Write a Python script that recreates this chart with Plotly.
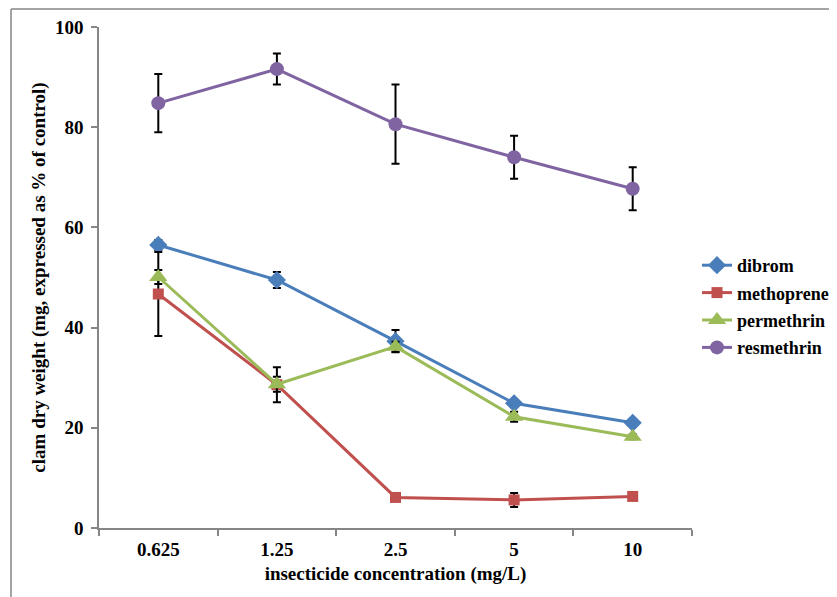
import plotly.graph_objects as go

categories = ["0.625", "1.25", "2.5", "5", "10"]
series_names = ["dibrom", "methoprene", "permethrin", "resmethrin"]
dibrom = [56.5, 49.5, 37.3, 24.9, 21.0]
dibrom_err = [1.0, 1.6, 2.2, 0.8, 0.5]
methoprene = [46.7, 28.6, 6.1, 5.6, 6.3]
methoprene_err = [8.4, 3.5, 0.5, 1.4, 0.5]
permethrin = [50.1, 28.7, 36.2, 22.2, 18.2]
permethrin_err = [1.4, 1.5, 1.0, 1.0, 0.5]
resmethrin = [84.8, 91.6, 80.6, 74.0, 67.7]
resmethrin_err = [5.8, 3.1, 7.9, 4.3, 4.3]

colors = ["#4A7EBB", "#C0504D", "#9BBB59", "#8064A2"]
symbols = ["diamond", "square", "triangle-up", "circle"]
sizes = [14, 11, 16, 14]
values = [dibrom, methoprene, permethrin, resmethrin]
errors = [dibrom_err, methoprene_err, permethrin_err, resmethrin_err]

font_family = "Liberation Serif"
FS = 19
bold = dict(family=font_family, size=FS, color="black", weight="bold")

fig = go.Figure()
for name, vals, errs, c, s, sz in zip(series_names, values, errors, colors, symbols, sizes):
    fig.add_trace(go.Scatter(
        x=categories, y=vals, name=name, legendgroup=name,
        mode="lines+markers",
        line=dict(color=c, width=3),
        marker=dict(color=c, symbol=s, size=sz),
        error_y=dict(type="data", array=errs, visible=True, color="black",
                     thickness=2, width=4),
    ))

# page has an 8px body margin: figure drawn at (8, 8)
OFF = 8
W, H = 837 - OFF, 597 - OFF
L, T = 99 - OFF, 27 - OFF
pw, ph = 593, 501
R, B = W - L - pw, H - T - ph
fx = (11 - OFF - L) / pw
fy = 1 + (27 - 9) / ph

leg_left = 697 - OFF
leg_top = 247 - OFF

fig.update_layout(
    width=W, height=H,
    margin=dict(l=L, r=R, t=T, b=B, autoexpand=False),
    paper_bgcolor="white", plot_bgcolor="white",
    font=dict(family=font_family, size=FS, color="black"),
    showlegend=True,
    legend=dict(x=(leg_left - L) / pw, y=(T + ph - leg_top) / ph,
                xanchor="left", yanchor="top",
                font=dict(family=font_family, size=18, color="black", weight="bold"),
                tracegroupgap=1, itemwidth=30, bgcolor="rgba(0,0,0,0)"),
    xaxis=dict(
        type="category", categoryorder="array", categoryarray=categories,
        showline=True, linecolor="#868686", linewidth=1.5,
        ticks="outside", ticklen=6, tickcolor="#868686", tickwidth=1.5,
        tickson="boundaries", showgrid=False, zeroline=False, automargin=False,
        tickfont=bold, ticklabelstandoff=3,
        title=dict(text="insecticide concentration (mg/L)", standoff=8, font=bold),
        range=[-0.5, 4.5],
    ),
    yaxis=dict(
        range=[0, 100], tickvals=[0, 20, 40, 60, 80, 100],
        showline=True, linecolor="#868686", linewidth=1.5,
        ticks="outside", ticklen=6, tickcolor="#868686", tickwidth=1.5,
        showgrid=False, zeroline=False, automargin=False,
        tickfont=bold, ticklabelstandoff=4,
        title=dict(text="clam dry weight (mg, expressed as % of control)", standoff=4,
                   font=bold),
    ),
    shapes=[
        dict(type="line", xref="paper", yref="paper", x0=fx, x1=fx, y0=fy, y1=-0.3,
             line=dict(color="#868686", width=1.5)),
        dict(type="line", xref="paper", yref="paper", x0=fx, x1=1.4, y0=fy, y1=fy,
             line=dict(color="#868686", width=1.5)),
    ],
)

fig.write_html("out.html")
